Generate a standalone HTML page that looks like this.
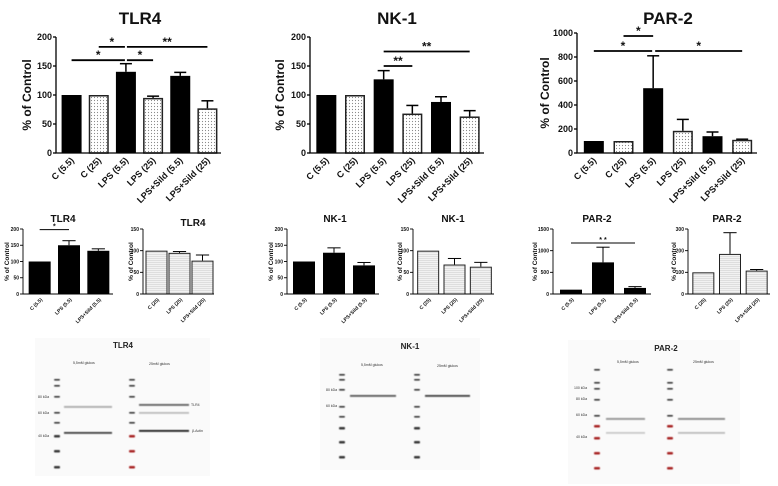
<!DOCTYPE html>
<html><head><meta charset="utf-8"><style>
html,body{margin:0;padding:0;background:#fff;}
svg{display:block;font-family:"Liberation Sans",Arial,sans-serif;}
</style></head><body>
<svg id="fig" width="778" height="486" viewBox="0 0 778 486">
<defs>
<pattern id="dots" width="3" height="3" patternUnits="userSpaceOnUse"><rect width="3" height="3" fill="#fff"/><circle cx="1.5" cy="1.5" r="0.6" fill="#888"/></pattern>
<pattern id="hlines" width="3" height="2" patternUnits="userSpaceOnUse"><rect width="3" height="2" fill="#f2f2f2"/><rect width="3" height="0.6" fill="#d0d0d0"/></pattern>
<filter id="blur"><feGaussianBlur stdDeviation="0.4"/></filter>
</defs>
</svg>
<script>
// ---- data ----
const topCats = ["C (5.5)","C (25)","LPS (5.5)","LPS (25)","LPS+Sild (5.5)","LPS+Sild (25)"];
const topFills = ["black","dot","black","dot","black","dot"];
const tlr4Vals = [100,100,140,95,133,77];
const tlr4Errs = [0,0,14,3,6,13];
const nk1Vals = [100,100,127,68,88,63];
const nk1Errs = [0,0,15,14,9,10];
const par2Vals = [100,100,540,185,140,110];
const par2Errs = [0,0,270,95,35,5];
const ticks200 = [0,50,100,150,200];
const ticks150 = [0,50,100,150];
const ticks1000 = [0,200,400,600,800,1000];
const ticks1500 = [0,500,1000,1500];
const ticks300 = [0,100,200,300];
const midLeftCats = ["C (5.5)","LPS (5.5)","LPS+Sild (5.5)"];
const midRightCats = ["C (25)","LPS (25)","LPS+Sild (25)"];
const tlr4MidLVals = [100,150,133];
const tlr4MidLErrs = [0,14,6];
const tlr4MidRVals = [100,95,77];
const tlr4MidRErrs = [0,3,13];
const nk1MidLVals = [100,127,88];
const nk1MidLErrs = [0,15,9];
const nk1MidRVals = [100,68,63];
const nk1MidRErrs = [0,14,10];
const par2MidLVals = [100,730,140];
const par2MidLErrs = [0,350,30];
const par2MidRVals = [100,185,108];
const par2MidRErrs = [0,98,5];

const svg = document.getElementById('fig');
const NS = 'http://www.w3.org/2000/svg';
function mk(tag, attrs, parent){
  const e = document.createElementNS(NS, tag);
  for (const k in attrs) e.setAttribute(k, attrs[k]);
  (parent||svg).appendChild(e);
  return e;
}

function chart(c){
  const g = mk('g', {});
  
  
  const n = c.cats.length;
  const ymax = c.ticks[c.ticks.length-1];
  const yS = v => c.y0 - (v/ymax)*(c.y0 - c.yTop);
  const slot = (c.x1 - c.x0 - 2)/n;
  const xC = i => c.x0 + 2 + slot*i + slot/2;
  const t = mk('text', {x:c.titleX, y:c.titleY, 'text-anchor':'middle', 'font-size':c.titleSize, 'font-weight':'bold', fill:'#111'}, g);
  t.textContent = c.title;
  
  
  const yl = mk('text', {x:0, y:0, 'text-anchor':'middle', 'font-size':c.lblSize, 'font-weight':'bold', fill:'#111', transform:`translate(${c.ylX},${(c.y0+c.yTop)/2}) rotate(-90)`}, g);
  yl.textContent = '% of Control';
  
  
  for (let i=0;i<n;i++){
    const cx = xC(i), bw = c.barW, v = c.vals[i], e = c.errs[i];
    const fill = c.fills[i]==='black' ? '#000' : (c.fills[i]==='dot' ? 'url(#dots)' : 'url(#hlines)');
    const stroke = c.fills[i]==='black' ? '#000' : '#222';
    const sw = c.fills[i]==='black' ? 0 : c.barStroke;
    const yv = yS(v);
    if (e>0){
      const ye = yS(v+e);
      const el = mk('line', {x1:cx, x2:cx, y1:yv, y2:ye, stroke:'#000', 'stroke-width':c.errW}, g);
      
      
      const cap = mk('line', {x1:cx-bw*0.3, x2:cx+bw*0.3, y1:ye, y2:ye, stroke:'#000', 'stroke-width':c.errW}, g);
      
      
    }
    const r = mk('rect', {x:cx-bw/2+sw/2, y:yv+sw/2, width:bw-sw, height:c.y0-yv-sw/2, fill:fill, stroke:stroke, 'stroke-width':sw}, g);
    
    
    const lb = mk('text', {x:0, y:0, 'text-anchor':'end', 'font-size':c.catSize, 'font-weight':'bold', fill:'#111', transform:`translate(${cx+3},${c.y0+c.catOff}) rotate(-45)`}, g);
    lb.textContent = c.cats[i];
    
    
  }
  const ax = mk('path', {d:`M${c.x0},${c.yTop} L${c.x0},${c.y0} L${c.x1},${c.y0}`, fill:'none', stroke:'#000', 'stroke-width':c.axW}, g);
  
  
  for (const tv of c.ticks){
    const y = yS(tv);
    const tk = mk('line', {x1:c.x0-3, x2:c.x0, y1:y, y2:y, stroke:'#000', 'stroke-width':c.axW}, g);
    
    
    const tl = mk('text', {x:c.x0-4, y:y+c.tickSize*0.35, 'text-anchor':'end', 'font-size':c.tickSize, 'font-weight':'bold', fill:'#111'}, g);
    tl.textContent = tv;
    
    
  }
  for (const s of (c.sig||[])){
    const y = yS(s.v);
    const a = xC(s.a) + (s.ga||0), b = xC(s.b) + (s.gb||0);
    const sl = mk('line', {x1:a, x2:b, y1:y, y2:y, stroke:'#000', 'stroke-width':c.sigW}, g);
    
    
    const st = mk('text', {x:(a+b)/2, y:y-1, 'text-anchor':'middle', 'font-size':c.starSize, 'font-weight':'bold', fill:'#111'}, g);
    st.textContent = s.label;
    
    
  }
}

const topBase = {cats:topCats, fills:topFills, y0:153, yTop:37, barW:20, titleY:24, titleSize:17, lblSize:12, tickSize:9, catSize:9, catOff:8, axW:1.3, errW:1.5, barStroke:1.5, sigW:1.8, starSize:12};
chart(Object.assign({}, topBase, {name:'tlr4-chart', title:'TLR4', titleX:140, ylX:31, x0:56, x1:221, ticks:ticks200, vals:tlr4Vals, errs:tlr4Errs,
  sig:[{a:0,b:2,v:160,label:'*',gb:-1},{a:2,b:3,v:160,label:'*',ga:1},{a:1,b:2,v:183,label:'*',gb:-1},{a:2,b:5,v:183,label:'**',ga:1}]}));
chart(Object.assign({}, topBase, {name:'nk1-chart', title:'NK-1', titleX:397, ylX:284, x0:310, x1:484, ticks:ticks200, vals:nk1Vals, errs:nk1Errs,
  sig:[{a:2,b:5,v:175,label:'**'},{a:2,b:3,v:150,label:'**'}]}));
chart(Object.assign({}, topBase, {name:'par2-chart', title:'PAR-2', titleX:668, ylX:549, yTop:33, x0:577, x1:757, ticks:ticks1000, vals:par2Vals, errs:par2Errs,
  sig:[{a:0,b:2,v:850,label:'*',gb:-1},{a:2,b:5,v:850,label:'*',ga:2},{a:1,b:2,v:975,label:'*'}]}));

const midBase = {y0:294, yTop:229, barW:22, titleY:222, titleSize:10, lblSize:6.5, tickSize:5, catSize:5, catOff:6, axW:0.9, errW:1, barStroke:1, sigW:1, starSize:7};
const blackF = ['black','black','black'], grayF = ['gray','gray','gray'];
chart(Object.assign({}, midBase, {name:'tlr4-mid-left-chart', title:'TLR4', titleX:63, ylX:9, x0:23, x1:113, ticks:ticks200, cats:midLeftCats, fills:blackF, vals:tlr4MidLVals, errs:tlr4MidLErrs,
  sig:[{a:0,b:1,v:198,label:'*'}]}));
chart(Object.assign({}, midBase, {name:'tlr4-mid-right-chart', title:'TLR4', titleX:193, titleY:226, ylX:133, x0:143, x1:214, ticks:ticks150, cats:midRightCats, fills:grayF, vals:tlr4MidRVals, errs:tlr4MidRErrs}));
chart(Object.assign({}, midBase, {name:'nk1-mid-left-chart', title:'NK-1', titleX:335, ylX:273, x0:287, x1:379, ticks:ticks200, cats:midLeftCats, fills:blackF, vals:nk1MidLVals, errs:nk1MidLErrs}));
chart(Object.assign({}, midBase, {name:'nk1-mid-right-chart', title:'NK-1', titleX:453, ylX:402, x0:413, x1:494, ticks:ticks150, cats:midRightCats, fills:grayF, vals:nk1MidRVals, errs:nk1MidRErrs}));
chart(Object.assign({}, midBase, {name:'par2-mid-left-chart', title:'PAR-2', titleX:597, ylX:537, x0:553, x1:651, ticks:ticks1500, cats:midLeftCats, fills:blackF, vals:par2MidLVals, errs:par2MidLErrs,
  sig:[{a:0,b:2,v:1177,label:'*            *'}]}));
chart(Object.assign({}, midBase, {name:'par2-mid-right-chart', title:'PAR-2', titleX:727, ylX:676, x0:688, x1:770, ticks:ticks300, cats:midRightCats, fills:grayF, vals:par2MidRVals, errs:par2MidRErrs}));

// ---- western blots ----
function blot(b){
  const g = mk('g', {});
  
  
  const bg = mk('rect', {x:b.x, y:b.y, width:b.w, height:b.h, fill:'#fafafa'}, g);
  
  
  const t = mk('text', {x:b.tx, y:b.ty, 'text-anchor':'middle', 'font-size':8, 'font-weight':'bold', fill:'#222'}, g);
  t.textContent = b.title;
  
  
  const bl = mk('g', {filter:'url(#blur)'}, g);
  for (const lx of b.ladders){
    b.marks.forEach((m,i)=>{
      const col = (b.red && lx===b.ladders[1] && i>=b.redFrom) || (b.redBoth && i>=b.redFrom) ? '#a01010' : '#222';
      const big = i>=b.redFrom || i>=b.marks.length-3;
      const r = mk('rect', {x:lx-3, y:m-1, width:6, height:big?2.5:1.6, rx:1, fill:col, opacity:0.9}, bl);
      
      
    });
  }
  for (const bd of b.bands){
    const r = mk('rect', {x:bd[0], y:bd[2]-1, width:bd[1]-bd[0], height:1.8, fill:'#111', opacity:bd[3]}, bl);
    
    
  }
  for (const L of b.labels){
    const tx = mk('text', {x:L[0], y:L[1], 'font-size':3.5, fill:'#333'}, g);
    tx.textContent = L[2];
    
    
  }
}
blot({name:'tlr4-blot', title:'TLR4', x:35, y:338, w:175, h:138, tx:123, ty:348, ladders:[57,132],
  marks:[380,386,397,413,423,436,451,467], redFrom:5, red:true,
  bands:[[64,112,433,0.8],[64,112,407,0.35],[139,189,405,0.65],[139,189,431,0.95],[139,189,413,0.25]],
  labels:[[73,364,'5,5mM glukos'],[149,365,'25mM glukos'],[191,406,'TLR4'],[192,432,'β-Actin'],[38,398,'80 kDa'],[38,414,'60 kDa'],[38,437,'40 kDa']]});
blot({name:'nk1-blot', title:'NK-1', x:320, y:338, w:160, h:132, tx:410, ty:349, ladders:[342,417],
  marks:[375,380,390,407,417,428,442,457], redFrom:99,
  bands:[[350,396,396,0.7],[425,470,396,0.8]],
  labels:[[361,366,'5,5mM glukos'],[437,367,'25mM glukos'],[326,391,'80 kDa'],[326,407,'60 kDa']]});
blot({name:'par2-blot', title:'PAR-2', x:568, y:340, w:172, h:144, tx:666, ty:351, ladders:[597,670],
  marks:[370,383,389,400,416,426,438,453,468], redFrom:5, redBoth:true,
  bands:[[606,645,419,0.45],[678,725,419,0.5],[606,645,433,0.2],[678,725,433,0.25]],
  labels:[[617,363,'5,5mM glukos'],[693,363,'25mM glukos'],[574,389,'100 kDa'],[576,400,'80 kDa'],[576,416,'60 kDa'],[576,438,'40 kDa']]});
</script>
</body></html>
